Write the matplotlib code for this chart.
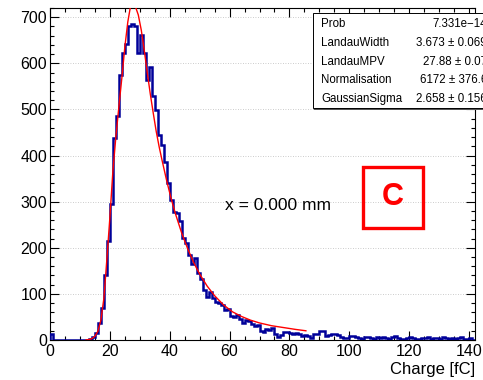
import numpy as np
import matplotlib
matplotlib.use("Agg")
import matplotlib.pyplot as plt
from matplotlib.patches import Rectangle
from matplotlib.ticker import MultipleLocator

plt.rcParams["font.family"] = ["Liberation Sans", "DejaVu Sans"]

# --- histogram contents, 1 fC bins starting at 0 -----------------------
counts_low = [13] + [0] * 11 + [1, 2, 6, 16, 37, 69, 141, 215, 294, 439]          # 0..21
counts_peak = [485, 575, 622, 643, 681, 685, 681, 623, 662, 623,                   # 22..31
               564, 593, 530, 499, 445, 423, 387, 340, 304, 278,                   # 32..41
               275, 258, 221, 210, 184, 165, 178, 145, 132, 108]                   # 42..51
counts_tail = [94, 105, 92, 83, 80, 75, 65, 68, 51, 50,                            # 52..61
               55, 45, 36, 43, 41, 34, 30, 33, 20, 18,                             # 62..71
               24, 22, 27, 14, 7, 10, 18, 17]                                      # 72..79
counts_far = [16, 12, 15, 13, 9, 10, 8, 5, 12, 14, 20, 19, 9, 10, 13, 14, 10, 6, 4, 5,
              9, 8, 6, 5, 3, 7, 6, 4, 3, 6, 5, 7, 4, 3, 6, 8, 5, 3, 2, 4,
              6, 5, 3, 2, 5, 4, 6, 3, 5, 4, 3, 6, 4, 2, 5, 3, 4, 7, 3, 2, 5, 1]  # 80..141
counts = counts_low + counts_peak + counts_tail + counts_far

# --- Landau x Gaussian fit curve -------------------------------------
fit_q = [12, 13, 14, 15, 16, 17, 18, 19, 20, 21, 22, 23, 24, 25, 26, 26.8, 27.6,
         28.7, 29.5, 30.5, 31.5, 32.5, 33.5, 34.5, 35.5, 36.5, 37.5, 39, 40.5, 42,
         44, 46, 48, 50, 52.5, 55, 58, 61, 64, 67, 70, 74, 78, 82, 85.5]
fit_val = [0, 1, 3, 8, 19, 43, 90, 175, 265, 365, 440, 505, 568, 635, 690, 720, 735,
           720, 705, 672, 628, 580, 534, 492, 452, 418, 388, 345, 306, 272,
           232, 198, 168, 143, 117, 96, 76, 61, 51, 43, 37, 31, 27, 23, 20]

stat_names = ["Prob", "LandauWidth", "LandauMPV", "Normalisation", "GaussianSigma"]
stat_values = ["7.331e\u221214", "3.673 \u00b1 0.069", "27.88 \u00b1 0.07",
               "6172 \u00b1 376.6", "2.658 \u00b1 0.156"]

W, H = 483, 380


def fpos(x, y):
    # pixel (from top-left) -> figure fraction
    return x / W, 1 - y / H


fig = plt.figure(figsize=(W / 100, H / 100), dpi=100)
ax = fig.add_axes([50 / W, 1 - 340 / H, 425 / W, 332 / H])

edges = np.arange(len(counts) + 1)
ax.stairs(counts, edges, color="#000099", lw=1.8, zorder=3)
ax.plot(fit_q, fit_val, color="red", lw=1.0, zorder=4)

ax.set_xlim(0, 142)
ax.set_ylim(0, 720)
ax.xaxis.set_major_locator(MultipleLocator(20))
ax.xaxis.set_minor_locator(MultipleLocator(5))
ax.yaxis.set_major_locator(MultipleLocator(100))
ax.yaxis.set_minor_locator(MultipleLocator(20))
ax.tick_params(which="both", direction="in", top=True, right=True, labelsize=11.5, width=0.8)
ax.tick_params(which="major", length=6.5)
ax.tick_params(which="minor", length=3.2)
ax.tick_params(axis="y", pad=2)
ax.tick_params(axis="x", pad=3)
for s in ax.spines.values():
    s.set_linewidth(0.8)
ax.yaxis.grid(True, linestyle=(0, (1, 2)), color="#bbbbbb", lw=0.6)
ax.set_axisbelow(True)

ax.set_xlabel("Charge [fC]", loc="right", fontsize=12, labelpad=2)

ax.text(58.5, 282, "x = 0.000 mm", fontsize=12.5, ha="left", va="baseline")

# --- stats box ---------------------------------------------------------
x0, y0 = fpos(313, 108)
x1, y1 = fpos(505, 13)
fig.patches.append(Rectangle((x0 + 1 / W, y0 - 2 / H), x1 - x0, y1 - y0,
                             transform=fig.transFigure, facecolor="#555555",
                             edgecolor="none", zorder=5))
fig.patches.append(Rectangle((x0, y0), x1 - x0, y1 - y0, transform=fig.transFigure,
                             facecolor="white", edgecolor="black", lw=0.7, zorder=6))
for i, (name, val) in enumerate(zip(stat_names, stat_values)):
    yy = 24 + i * 18.8
    fig.text(*fpos(321, yy), name, fontsize=8.3, ha="left", va="center", zorder=7)
    fig.text(*fpos(487, yy), val, fontsize=8.3, ha="right", va="center", zorder=7)

# --- panel tag ---------------------------------------------------------
bx0, by0 = fpos(363, 228)
bx1, by1 = fpos(423, 167)
fig.patches.append(Rectangle((bx0, by0), bx1 - bx0, by1 - by0, transform=fig.transFigure,
                             facecolor="none", edgecolor="#ff0000", lw=2.4, zorder=6))
fig.text(*fpos(393, 197), "C", color="#ff0000", fontsize=22, fontweight="bold",
         ha="center", va="center", zorder=7)

fig.savefig("out.png", dpi=100)
